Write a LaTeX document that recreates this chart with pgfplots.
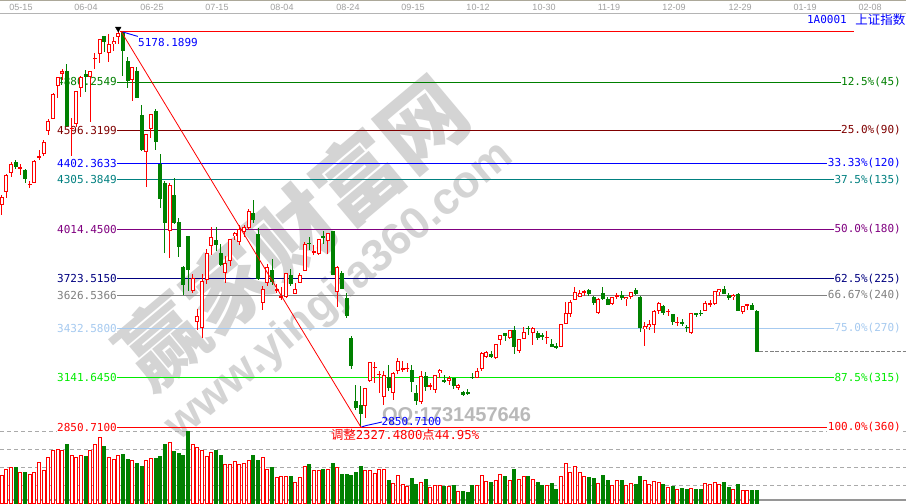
\documentclass[border=0pt]{standalone}
\usepackage{pgfplots}
\pgfplotsset{compat=1.18}
\usepackage{pgfplotstable}
\usepackage{fontspec}
\setmainfont{DejaVu Sans Mono}
\newfontfamily\mono{DejaVu Sans Mono}
\newfontfamily\cjk{Noto Sans CJK SC}
\newfontfamily\lsans{Liberation Sans}

\definecolor{cRed}{RGB}{255,0,0}
\definecolor{cGrn}{RGB}{0,128,0}
\definecolor{cL1}{RGB}{0,128,0}
\definecolor{cL2}{RGB}{128,0,0}
\definecolor{cL3}{RGB}{0,0,255}
\definecolor{cL4}{RGB}{0,128,128}
\definecolor{cL5}{RGB}{128,0,128}
\definecolor{cL6}{RGB}{0,0,128}
\definecolor{cL7}{RGB}{128,128,128}
\definecolor{cL8}{RGB}{166,202,240}
\definecolor{cL9}{RGB}{0,235,0}
\definecolor{cL10}{RGB}{255,0,0}
\definecolor{cBlue}{RGB}{0,0,255}
\definecolor{cGridV}{RGB}{170,170,170}
\definecolor{cDate}{RGB}{160,160,160}
\definecolor{cWm}{RGB}{212,212,212}
\definecolor{cQQ}{RGB}{185,185,185}

% daily candles: index, open, high, low, close, volume (bar height units)
\pgfplotstableread{
i O H L C V
-1 4155 4215 4100 4204 28
0 4234 4338 4196 4332 34
1 4348 4410 4322 4401 36
2 4410 4420 4370 4378 36
3 4370 4400 4332 4378 31
4 4365 4370 4285 4309 31
5 4277 4299 4260 4283 29
6 4286 4420 4285 4418 31
7 4437 4480 4420 4446 41
8 4459 4537 4447 4529 33
9 4590 4661 4567 4651 46
10 4665 4815 4660 4812 52.6
11 4857 4911 4786 4909 53.6
12 4930 4959 4890 4942 52.6
13 4943 4986 4614 4620 59.3
14 4603 4668 4445 4611 47.6
15 4633 4829 4616 4828 46
16 4845 4915 4790 4910 47.6
17 4930 4951 4821 4912 47
18 4911 4947 4647 4947 53
19 5015 5051 4958 5023 59.3
20 5045 5131 4990 5131 66
21 5150 5152 5056 5115 57
22 5053 5164 4997 5105 46
23 5101 5143 5063 5121 44.3
24 5144 5178.19 5103 5166 47.6
25 5174 5176 4915 5062 49
26 5004 5029 4846 4887 44.3
27 4890 4969 4767 4967 43.3
28 4942 4966 4785 4785 40
29 4689 4744 4476 4478 37
30 4471 4577 4264 4577 42.6
31 4604 4691 4552 4690 45.3
32 4711 4720 4483 4527 45.3
33 4399 4456 4139 4192 47
34 4289 4297 3875 4053 59.3
35 4006 4287 3847 4277 61
36 4214 4317 4043 4054 51.6
37 4058 4080 3850 3913 50
38 3793 3800 3629 3687 47.6
39 3975 3975 3653 3775 72
40 3654 3749 3641 3727 59.3
41 3467 3548 3421 3507 56
42 3432 3749 3373 3710 52.6
43 3715 3900 3690 3877 47
44 3918 4030 3862 3970 51
45 3951 4029 3886 3924 52.6
46 3874 3929 3800 3805 47.6
47 3760 3860 3700 3818 39.3
48 3830 3960 3800 3957 38.6
49 3974 4000 3952 3992 42
50 3940 4040 3925 4018 39.3
51 3999 4037 3968 4026 40
52 4023 4132 4010 4124 43.3
53 4110 4184 4051 4070 47.6
54 3988 4020 3716 3725 43.3
55 3580 3680 3540 3662 46
56 3697 3810 3680 3791 34.3
57 3775 3840 3687 3706 36
58 3655 3690 3638 3664 26
59 3615 3677 3599 3622 27
60 3614 3757 3608 3756 27
61 3744 3782 3681 3695 27
62 3632 3697 3632 3661 21
63 3699 3758 3699 3744 26
64 3770 3938 3770 3928 36.6
65 3936 3970 3891 3928 39.3
66 3880 3920 3861 3886 33.3
67 3868 3955 3863 3955 32.6
68 3976 4006 3929 3965 34.3
69 3946 3994 3868 3993 34.3
70 4004 4006 3743 3748 40.3
71 3646 3799 3558 3794 36
72 3760 3768 3663 3664 29.3
73 3609 3640 3491 3507 28.6
74 3373 3388 3192 3210 27.6
75 3004 3100 2952 2964 31
76 2980 3092 2850.71 2927 37
77 2978 3084 2906 3084 33.3
78 3125 3233 3115 3232 33.3
79 3203 3232 3110 3206 30
80 3157 3180 3053 3166 33.6
81 3028 3183 2983 3160 33.6
82 3149 3218 3066 3080 22.6
83 3054 3174 3011 3170 20.3
84 3182 3256 3165 3243 27.6
85 3190 3243 3178 3197 19.3
86 3194 3226 3174 3200 16.6
87 3190 3219 3058 3114 25.3
88 3050 3100 2983 3005 19.3
89 3002 3182 2988 3152 21
90 3151 3177 3063 3086 23.6
91 3090 3111 3069 3097 16
92 3072 3157 3051 3156 18.3
93 3171 3191 3142 3185 17.6
94 3131 3160 3113 3116 16.6
95 3124 3151 3101 3142 16.6
96 3140 3141 3073 3092 17.6
97 3082 3105 3071 3100 12
98 3057 3063 3033 3038 12
99 3055 3073 3039 3053 11
100 3146 3172 3133 3143 17.6
101 3143 3200 3138 3183 17.6
102 3193 3294 3183 3287 28.3
103 3262 3297 3258 3293 22
104 3280 3301 3259 3262 21
105 3260 3339 3250 3338 23.3
106 3365 3393 3335 3391 29.3
107 3403 3407 3356 3386 27
108 3377 3425 3372 3425 23.3
109 3425 3448 3283 3320 33.6
110 3297 3369 3286 3368 24.3
111 3371 3441 3370 3412 26.6
112 3435 3447 3391 3429 26.6
113 3404 3440 3333 3434 24.3
114 3405 3418 3361 3375 21
115 3390 3407 3365 3387 18.3
116 3379 3416 3341 3382 18.3
117 3342 3369 3322 3325 20
118 3330 3346 3311 3316 14.3
119 3325 3459 3325 3459 27
120 3459 3585 3455 3522 40
121 3517 3596 3500 3590 31
122 3601 3678 3598 3647 37
123 3617 3657 3615 3640 31
124 3640 3655 3620 3650 26.6
125 3656 3662 3624 3632 26
126 3616 3623 3569 3580 25.3
127 3523 3608 3519 3607 20
128 3640 3678 3599 3604 28.3
129 3605 3614 3567 3568 22.6
130 3577 3618 3571 3617 18.3
131 3620 3640 3607 3630 23.3
132 3631 3654 3598 3610 23.3
133 3602 3616 3563 3616 18.3
134 3614 3648 3607 3647 20
135 3659 3668 3631 3635 19.3
136 3616 3621 3412 3436 26.6
137 3428 3470 3327 3445 22.6
138 3441 3483 3425 3456 19.3
139 3450 3538 3402 3536 21.6
140 3533 3585 3518 3584 21
141 3566 3569 3512 3524 19.3
142 3529 3543 3504 3536 16
143 3518 3518 3454 3470 16.6
144 3462 3497 3446 3472 14.3
145 3469 3485 3446 3455 15.3
146 3441 3449 3410 3434 14.3
147 3405 3521 3397 3520 15.3
148 3524 3524 3496 3510 14.3
149 3523 3538 3505 3516 14.3
150 3535 3592 3535 3580 20
151 3573 3601 3556 3578 19.3
152 3578 3651 3572 3651 21
153 3646 3663 3625 3662 19.3
154 3666 3684 3632 3636 21
155 3631 3640 3601 3612 16
156 3614 3635 3601 3627 14.3
157 3635 3639 3533 3533 19.3
158 3528 3566 3515 3563 13.3
159 3566 3573 3539 3573 13.3
160 3570 3580 3538 3539 12.6
161 3536 3538 3295 3296 13.3
}\candles

\pgfplotsset{
  keepup/.style={restrict expr to domain={\thisrow{C}-\thisrow{O}}{0:100000}},
  keepdn/.style={restrict expr to domain={\thisrow{O}-\thisrow{C}}{0.001:100000}},
  priceax/.style={at={(0,0)}, anchor=south west, width=906bp, height=504bp,
    scale only axis, hide axis, clip=false,
    xmin=-1.3734, xmax=193.047, ymin=2399.9, ymax=5362.1},
  lvl/.style={line width=0.9bp, no marks},
  stick/.style 2 args={draw=none, mark=none, forget plot, #1,
    error bars/.cd, y dir=both, y explicit, error mark=none,
    error bar style={#2}},
}

\begin{document}
\begin{tikzpicture}[x=1bp,y=1bp]
\path[use as bounding box, fill=white] (0,0) rectangle (906,504);

% watermark
\node[rotate=40, text=cWm, font={\cjk\bfseries\fontsize{85bp}{85bp}\selectfont}] at (292,272) {赢家财富网};
\node[rotate=40, text=cWm, font={\lsans\bfseries\fontsize{45bp}{45bp}\selectfont}] at (340,212) {www.yingjia360.com};

% top date bar
\draw[color={rgb,255:red,172;green,168;blue,153}, line width=1.5bp] (0,503.3) -- (906,503.3);
\draw[color={rgb,255:red,180;green,180;blue,180}, line width=1bp] (0,490.7) -- (906,490.7);
\foreach \xx/\lab in {21/05-15,86/06-04,152/06-25,217/07-15,282/08-04,348/08-24,413/09-15,478/10-12,544/10-30,609/11-19,674/12-09,740/12-29,805/01-19,870/02-08}
  \node[text=cDate, font={\lsans\fontsize{9bp}{10bp}\selectfont}, inner sep=0] at (\xx,496.5) {\lab};
% bottom line
\draw[color={rgb,255:red,150;green,150;blue,150}, line width=1.8bp] (0,4) -- (906,4);

% ---- volume panel ----
\begin{axis}[at={(0,4.7)}, anchor=south west, width=906bp, height=72bp,
    scale only axis, hide axis, clip=false,
    xmin=-1.3734, xmax=193.047, ymin=0, ymax=72]
\addplot[cGridV, line width=1bp, dash pattern=on 4bp off 3bp, no marks] coordinates {(-1.3734,18) (193.047,18)};
\addplot[cGridV, line width=1bp, dash pattern=on 4bp off 3bp, no marks] coordinates {(-1.3734,36) (193.047,36)};
\addplot[cGridV, line width=1bp, dash pattern=on 4bp off 3bp, no marks] coordinates {(-1.3734,54) (193.047,54)};
\addplot[cGridV, line width=1bp, dash pattern=on 4bp off 3bp, no marks] coordinates {(-1.3734,72) (193.047,72)};
\addplot[ybar, bar width=0.644, bar shift=0pt, draw=cRed, fill=white, line width=1bp, keepup] table[x=i, y=V] {\candles};
\addplot[ybar, bar width=0.644, bar shift=0pt, draw=cGrn, fill=cGrn, line width=1bp, keepdn] table[x=i, y=V] {\candles};
\end{axis}

% ---- retracement lines ----
\begin{axis}[priceax]
\addplot[lvl, cRed] coordinates {(24.4,5178.1899) (181.9,5178.1899)};
\addplot[lvl, cL1] coordinates {(23.73,4880.2549) (183,4880.2549)};
\addplot[lvl, cL2] coordinates {(23.73,4596.3199) (183,4596.3199)};
\addplot[lvl, cL3] coordinates {(23.73,4402.3633) (183,4402.3633)};
\addplot[lvl, cL4] coordinates {(23.73,4305.3849) (183,4305.3849)};
\addplot[lvl, cL5] coordinates {(23.73,4014.4500) (183,4014.4500)};
\addplot[lvl, cL6] coordinates {(23.73,3723.5150) (183,3723.5150)};
\addplot[lvl, cL7] coordinates {(23.73,3626.5366) (183,3626.5366)};
\addplot[lvl, cL8] coordinates {(23.73,3432.5800) (183,3432.5800)};
\addplot[lvl, cL9] coordinates {(23.73,3141.6450) (183,3141.6450)};
\addplot[lvl, cL10] coordinates {(23.73,2850.7100) (183,2850.7100)};
\end{axis}

% level labels
\tikzset{lbl/.style={anchor=east, fill=white, inner xsep=0.5bp, inner ysep=0.8bp, font={\mono\fontsize{11bp}{12bp}\selectfont}}}
\node[lbl, text=cL1] at (117.5,422.0) {4880.2549};
\node[lbl, text=cL2] at (117.5,373.7) {4596.3199};
\node[lbl, text=cL3] at (117.5,340.7) {4402.3633};
\node[lbl, text=cL4] at (117.5,324.2) {4305.3849};
\node[lbl, text=cL5] at (117.5,274.7) {4014.4500};
\node[lbl, text=cL6] at (117.5,225.2) {3723.5150};
\node[lbl, text=cL7] at (117.5,208.7) {3626.5366};
\node[lbl, text=cL8] at (117.5,175.7) {3432.5800};
\node[lbl, text=cL9] at (117.5,126.2) {3141.6450};
\node[lbl, text=cL10] at (117.5,76.7) {2850.7100};
\node[lbl, text=cL1] at (901.5,422.0) {12.5\%(45)};
\node[lbl, text=cL2] at (901.5,373.7) {25.0\%(90)};
\node[lbl, text=cL3] at (901.5,340.7) {33.33\%(120)};
\node[lbl, text=cL4] at (901.5,324.2) {37.5\%(135)};
\node[lbl, text=cL5] at (901.5,274.7) {50.0\%(180)};
\node[lbl, text=cL6] at (901.5,225.2) {62.5\%(225)};
\node[lbl, text=cL7] at (901.5,208.7) {66.67\%(240)};
\node[lbl, text=cL8] at (901.5,175.7) {75.0\%(270)};
\node[lbl, text=cL9] at (901.5,126.2) {87.5\%(315)};
\node[lbl, text=cL10] at (901.5,76.7) {100.0\%(360)};

% QQ watermark
\node[text=cQQ, font={\lsans\bfseries\fontsize{20bp}{20bp}\selectfont}, inner sep=0] at (456.5,88) {QQ:1731457646};

% ---- candles ----
\begin{axis}[priceax]
% up candles (hollow red)
\addplot[stick={keepup}{draw=cRed, line width=1bp}]
  table[x=i, y expr={(\thisrow{H}+\thisrow{L})/2}, y error expr={(\thisrow{H}-\thisrow{L})/2}] {\candles};
\addplot[stick={keepup}{draw=cRed, line width=4bp}]
  table[x=i, y expr={(\thisrow{O}+\thisrow{C})/2}, y error expr={max(abs(\thisrow{C}-\thisrow{O})/2,3)}] {\candles};
\addplot[stick={keepup}{draw=white, line width=2bp}]
  table[x=i, y expr={(\thisrow{O}+\thisrow{C})/2}, y error expr={max(abs(\thisrow{C}-\thisrow{O})/2-5.9,0)}] {\candles};
% down candles (filled green)
\addplot[stick={keepdn}{draw=cGrn, line width=1bp}]
  table[x=i, y expr={(\thisrow{H}+\thisrow{L})/2}, y error expr={(\thisrow{H}-\thisrow{L})/2}] {\candles};
\addplot[stick={keepdn}{draw=cGrn, line width=4bp}]
  table[x=i, y expr={(\thisrow{O}+\thisrow{C})/2}, y error expr={max(abs(\thisrow{C}-\thisrow{O})/2,3)}] {\candles};
% swing line peak -> trough
\addplot[cRed, line width=0.8bp, no marks] coordinates {(24.6,5178.19) (76.1,2850.71)};
% connectors
\addplot[cBlue, line width=0.9bp, no marks] coordinates {(25.0,5174) (26.1,5165) (27.2,5156) (28.2,5148)};
\addplot[cBlue, line width=0.9bp, no marks] coordinates {(76.2,2852.5) (77.2,2861) (79.7,2876) (80.6,2882)};
% peak marker
\addplot[only marks, mark=triangle*, mark size=3.2bp, mark options={rotate=180, fill=black, draw=black}] coordinates {(24,5193)};
% last close dashed
\addplot[color={rgb,255:red,128;green,128;blue,128}, line width=1bp, dash pattern=on 3.5bp off 1.8bp, no marks] coordinates {(161.6,3296.26) (193.047,3296.26)};
\end{axis}

% annotations
\node[anchor=west, text=cBlue, inner sep=0, font={\mono\fontsize{11bp}{12bp}\selectfont}] at (138,461.3) {5178.1899};
\node[anchor=west, text=cBlue, inner sep=0, font={\mono\fontsize{11bp}{12bp}\selectfont}] at (381.5,82.5) {2850.7100};
\node[anchor=west, text=cRed, inner sep=0, font={\mono\fontsize{12.3bp}{13bp}\selectfont}] at (331,69) {{\cjk 调整}2327.4800{\cjk 点}44.95\%};
\node[anchor=east, text=cBlue, inner sep=0, font={\mono\fontsize{11bp}{12bp}\selectfont}] at (847,484.5) {1A0001};
\node[anchor=east, text=cBlue, inner sep=0, font={\cjk\fontsize{12.5bp}{13bp}\selectfont}] at (905.5,484.5) {上证指数};
\end{tikzpicture}
\end{document}
